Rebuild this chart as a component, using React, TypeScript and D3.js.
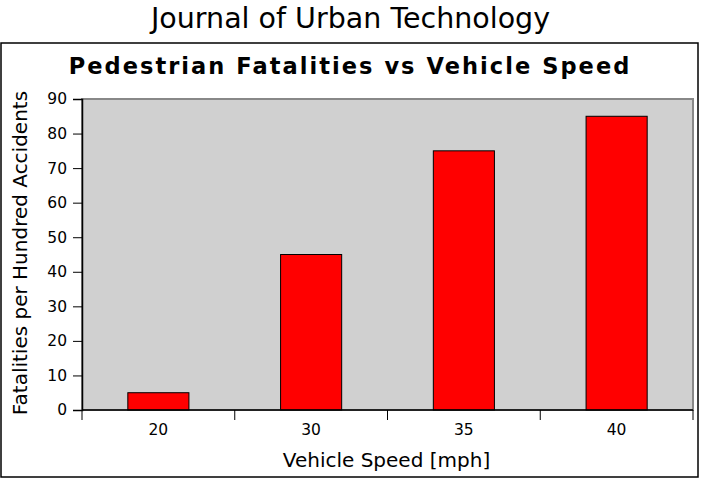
import React, { useRef, useEffect } from "react";
import * as d3 from "d3";

const speeds = ["20", "30", "35", "40"];
const fatalities = [5, 45, 75, 85];
const yTicks = [0, 10, 20, 30, 40, 50, 60, 70, 80, 90];

const App: React.FC = () => {
  const ref = useRef<SVGSVGElement | null>(null);

  useEffect(() => {
    if (!ref.current) return;
    const svg = d3.select(ref.current);
    svg.selectAll("*").remove();

    const width = 701;
    const height = 479;
    const margin = { top: 99, right: 8, bottom: 69, left: 82 };
    const font = "DejaVu Sans, sans-serif";

    svg.attr("width", width).attr("height", height).attr("viewBox", `0 0 ${width} ${height}`);

    svg.append("rect").attr("width", width).attr("height", height).attr("fill", "#fff");

    svg
      .append("text")
      .attr("x", 350.5)
      .attr("y", 28)
      .attr("text-anchor", "middle")
      .attr("font-family", font)
      .attr("font-size", 28.5)
      .text("Journal of Urban Technology");

    svg
      .append("rect")
      .attr("x", 1)
      .attr("y", 43)
      .attr("width", 697)
      .attr("height", 434)
      .attr("fill", "#fff")
      .attr("stroke", "#000")
      .attr("stroke-width", 1.5);

    svg
      .append("text")
      .attr("x", 350)
      .attr("y", 73.5)
      .attr("text-anchor", "middle")
      .attr("font-family", font)
      .attr("font-weight", "bold")
      .attr("font-size", 22.5)
      .attr("letter-spacing", 2.05)
      .text("Pedestrian Fatalities vs Vehicle Speed");

    const x = d3
      .scaleBand<string>()
      .domain(speeds)
      .range([margin.left, width - margin.right])
      .paddingInner(0);

    const y = d3
      .scaleLinear()
      .domain([0, 90])
      .range([height - margin.bottom, margin.top]);

    // plot background
    svg
      .append("rect")
      .attr("x", margin.left)
      .attr("y", margin.top)
      .attr("width", width - margin.right - margin.left)
      .attr("height", height - margin.bottom - margin.top)
      .attr("fill", "#d0d0d0")
      .attr("stroke", "#888")
      .attr("stroke-width", 2);

    const bw = x.bandwidth() * 0.4;
    svg
      .append("g")
      .selectAll("rect")
      .data(fatalities)
      .join("rect")
      .attr("x", (_, i) => (x(speeds[i]) || 0) + (x.bandwidth() - bw) / 2)
      .attr("y", (d) => y(d))
      .attr("width", bw)
      .attr("height", (d) => y(0) - y(d))
      .attr("fill", "#ff0000")
      .attr("stroke", "#000")
      .attr("stroke-width", 1);

    // y axis
    const yAxis = svg
      .append("g")
      .attr("transform", `translate(${margin.left},0)`)
      .call(d3.axisLeft(y).tickValues(yTicks).tickSize(9).tickPadding(6));
    yAxis.select(".domain").attr("stroke", "#000").attr("stroke-width", 1.5);
    yAxis
      .selectAll("text")
      .attr("font-family", font)
      .attr("font-size", 15.5)
      .attr("fill", "#000");

    // x axis with ticks at category boundaries
    const xAxisG = svg.append("g").attr("transform", `translate(0,${y(0)})`);
    xAxisG
      .append("line")
      .attr("x1", margin.left)
      .attr("x2", width - margin.right)
      .attr("stroke", "#000")
      .attr("stroke-width", 1.5);
    const bounds = [...speeds.map((s) => x(s) || 0), width - margin.right];
    xAxisG
      .selectAll("line.tick")
      .data(bounds)
      .join("line")
      .attr("class", "tick")
      .attr("x1", (d) => d)
      .attr("x2", (d) => d)
      .attr("y1", 0)
      .attr("y2", 10)
      .attr("stroke", "#000");
    xAxisG
      .selectAll("text")
      .data(speeds)
      .join("text")
      .attr("x", (d) => (x(d) || 0) + x.bandwidth() / 2)
      .attr("y", 24.5)
      .attr("text-anchor", "middle")
      .attr("font-family", font)
      .attr("font-size", 15.5)
      .text((d) => d);

    svg
      .append("text")
      .attr("x", 386.5)
      .attr("y", 467)
      .attr("text-anchor", "middle")
      .attr("font-family", font)
      .attr("font-size", 20)
      .text("Vehicle Speed [mph]");

    svg
      .append("text")
      .attr("transform", `translate(27,253) rotate(-90)`)
      .attr("text-anchor", "middle")
      .attr("font-family", font)
      .attr("font-size", 20)
      .text("Fatalities per Hundred Accidents");
  }, []);

  return <svg ref={ref} style={{ display: "block", position: "absolute", left: 0, top: 0 }} />;
};

export default App;
